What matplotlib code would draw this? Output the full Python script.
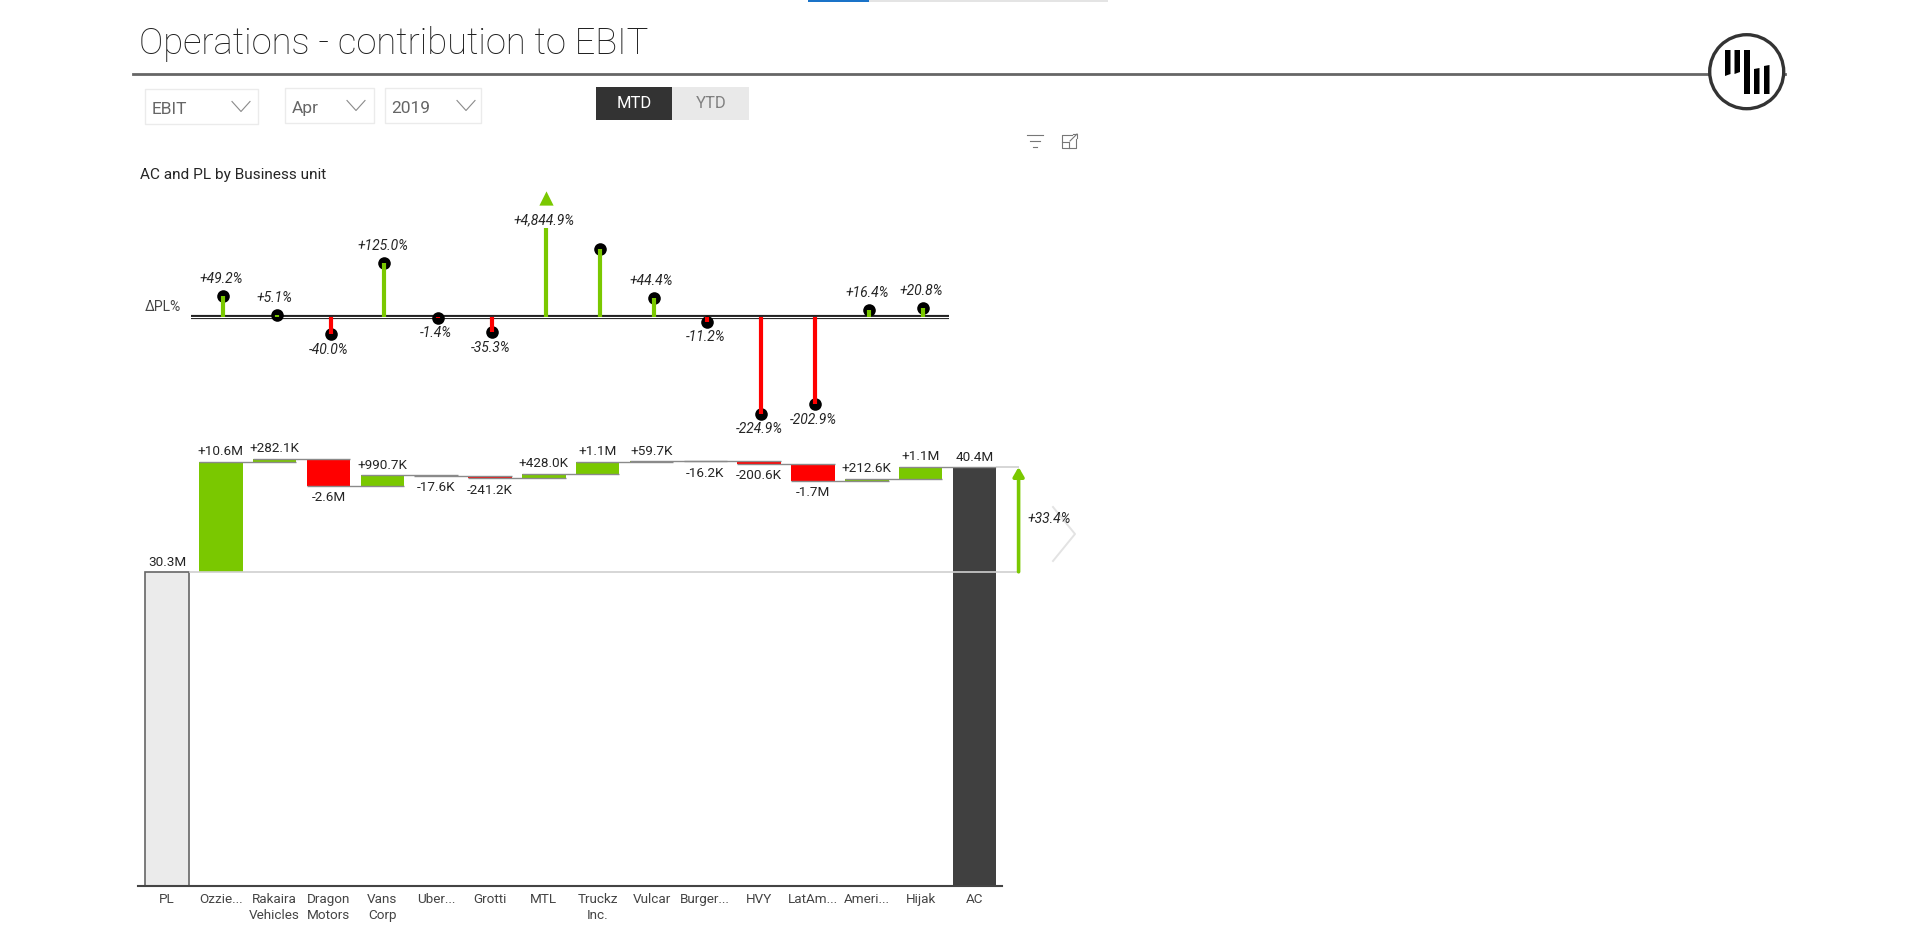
import numpy as np
import matplotlib
matplotlib.use("Agg")
import matplotlib.pyplot as plt
from matplotlib.patches import Circle, Polygon, Rectangle

plt.rcParams["font.family"] = ["Roboto", "DejaVu Sans"]

W, H = 1920, 943
GREEN = "#7ac800"
RED = "#ff0000"
INK = "#252525"

categories = ["PL", "Ozzie...", "Rakaira\nVehicles", "Dragon\nMotors", "Vans\nCorp",
              "Uber...", "Grotti", "MTL", "Truckz\nInc.", "Vulcar", "Burger...",
              "HVY", "LatAm...", "Ameri...", "Hijak", "AC"]

# waterfall, in millions
pl_value = 30.3
deltas = [10.6, 0.2821, -2.57, 0.9907, -0.0176, -0.2412, 0.428, 1.12, 0.0597,
          -0.0162, -0.2006, -1.67, 0.2126, 1.13]
delta_labels = ["+10.6M", "+282.1K", "-2.6M", "+990.7K", "-17.6K", "-241.2K", "+428.0K",
                "+1.1M", "+59.7K", "-16.2K", "-200.6K", "-1.7M", "+212.6K", "+1.1M"]
pl_label = "30.3M"
ac_label = "40.4M"
total_label = "+33.4%"

# delta PL %; Truckz has no label in the report, its value is read from the stem height
pct_values = [49.2, 5.1, -40.0, 125.0, -1.4, -35.3, 4844.9, 158.0, 44.4, -11.2,
              -224.9, -202.9, 16.4, 20.8]
pct_labels = ["+49.2%", "+5.1%", "-40.0%", "+125.0%", "-1.4%", "-35.3%", "+4,844.9%", "",
              "+44.4%", "-11.2%", "-224.9%", "-202.9%", "+16.4%", "+20.8%"]
pct_cap = 206.0   # outlier stem gets cut here and marked with a triangle


def px_axes(fig, left, top, right, bottom):
    return fig.add_axes([left / W, (H - bottom) / H, (right - left) / W, (bottom - top) / H])


fig = plt.figure(figsize=(W / 100, H / 100), dpi=100, facecolor="white")

# page furniture ---------------------------------------------------------
ui = px_axes(fig, 0, 0, W, H)
ui.set_xlim(0, W)
ui.set_ylim(H, 0)
ui.axis("off")

ui.add_patch(Rectangle((808, 0), 300, 2, color="#e4e4e4", lw=0))
ui.add_patch(Rectangle((808, 0), 61, 2, color="#1a73c8", lw=0))

ui.text(139, 44, "Operations - contribution to EBIT", fontsize=26.2, weight="light",
        color="#1f1f1f", va="center")
ui.plot([133, 1785], [74, 74], color="#666666", lw=2)

ui.add_patch(Circle((1746.7, 71.7), 37, fc="white", ec="#333333", lw=2.4, zorder=3))
logo_bars = [[(1725, 50), (1730.5, 50), (1730.5, 74), (1725, 76)],
             [(1734.5, 50), (1740, 50), (1740, 72), (1734.5, 74)],
             [(1744, 50), (1749.5, 50), (1749.5, 94), (1744, 94)],
             [(1754, 69), (1759.5, 68), (1759.5, 94), (1754, 94)],
             [(1764, 66), (1769.5, 65), (1769.5, 94), (1764, 94)]]
for pts in logo_bars:
    ui.add_patch(Polygon(pts, fc="black", lw=0, zorder=4))

slicers = [("EBIT", 144.5, 258, 89, 124, 232), ("Apr", 285, 373.5, 88, 123, 347),
           ("2019", 384.5, 481, 88, 123, 457)]
for text, x0, x1, y0, y1, cx in slicers:
    ui.add_patch(Rectangle((x0, y0), x1 - x0, y1 - y0, fc="white", ec="#ebebeb", lw=1))
    ui.text(x0 + 7, (y0 + y1) / 2 + 3, text, fontsize=12.5, color="#666666", va="center")
    ui.plot([cx, cx + 9, cx + 18], [(y0 + y1) / 2 - 5, (y0 + y1) / 2 + 5, (y0 + y1) / 2 - 5],
            color="#8a8a8a", lw=0.8)

ui.add_patch(Rectangle((596, 87), 76, 33, color="#333333", lw=0))
ui.add_patch(Rectangle((672, 87), 77, 33, color="#e9e9e9", lw=0))
ui.text(634, 103.5, "MTD", fontsize=12, color="white", ha="center", va="center")
ui.text(711, 103.5, "YTD", fontsize=12, color="#808080", ha="center", va="center")

# visual header icons
for y, half in zip([135, 141, 147], [8, 5, 2]):
    ui.plot([1034.5 - half, 1034.5 + half], [y, y], color="#777777", lw=0.8)
ui.plot([1072, 1062, 1062, 1076, 1076], [135, 135, 148, 148, 139], color="#777777", lw=0.8)
ui.plot([1062, 1069, 1069], [142, 142, 148], color="#777777", lw=0.8)
ui.plot([1073, 1077, 1077], [134, 134, 138], color="#777777", lw=0.8)
ui.plot([1070, 1077], [141, 134], color="#777777", lw=0.8)

ui.text(140, 175, "AC and PL by Business unit", fontsize=11.1, color=INK, va="center")
ui.text(163, 307, "ΔPL%", fontsize=10, color="#444444", ha="center", va="center")

# next-page chevron
ui.plot([1053, 1075, 1053], [507, 534, 561], color="#e3e3e3", lw=1.4)

# lollipops --------------------------------------------------------------
STEP = 53.83
PCT_SCALE = 0.43  # px per percent point
L_LEFT, L_RIGHT, L_TOP, L_BOTTOM = 191, 949, 190, 440
L_X0, L_ZERO = 223, 317

top = px_axes(fig, L_LEFT, L_TOP, L_RIGHT, L_BOTTOM)
top.patch.set_alpha(0)
top.axis("off")
top.set_xlim((L_LEFT - L_X0) / STEP, (L_RIGHT - L_X0) / STEP)
top.set_ylim((L_ZERO - L_BOTTOM) / PCT_SCALE, (L_ZERO - L_TOP) / PCT_SCALE)

pct = np.array(pct_values)
shown = np.minimum(pct, pct_cap)
xs = np.arange(len(pct))
capped = pct > pct_cap

top.axhline(0, color="#222222", lw=3, zorder=1)
top.axhline(0, color="white", lw=0.8, zorder=1.1)
top.scatter(xs[~capped], shown[~capped], s=82, color="black", lw=0, zorder=2, clip_on=False)
top.vlines(xs, 0, shown, colors=[GREEN if v > 0 else RED for v in pct], lw=3, zorder=3)
top.scatter(xs[capped], shown[capped] + 70, s=105, marker="^", color=GREEN, lw=0, zorder=3)

for x, y, v, label in zip(xs, shown, pct, pct_labels):
    if v > pct_cap:
        off = 8
    else:
        off = 17 if v > 0 else -15.5
    top.annotate(label, (x, y), xytext=(-2, off), textcoords="offset pixels", ha="center",
                 va="center", fontsize=10, style="italic", color=INK, zorder=5)

# waterfall --------------------------------------------------------------
M_SCALE = 10.37  # px per million
W_LEFT, W_RIGHT, W_TOP, W_BOTTOM = 138, 1090, 440, 886
W_X0 = 167

wf = px_axes(fig, W_LEFT, W_TOP, W_RIGHT, W_BOTTOM)
wf.patch.set_alpha(0)
wf.set_xlim((W_LEFT - W_X0) / STEP, (W_RIGHT - W_X0) / STEP)
wf.set_ylim(0, (W_BOTTOM - W_TOP) / M_SCALE)
for side in ["top", "left", "right"]:
    wf.spines[side].set_visible(False)
wf.spines["bottom"].set_color("#444444")
wf.spines["bottom"].set_linewidth(1.5)
wf.spines["bottom"].set_bounds((W_LEFT - W_X0) / STEP, (1002 - W_X0) / STEP)
wf.set_yticks([])

cum = pl_value + np.cumsum(deltas)
starts = np.r_[pl_value, cum[:-1]]
ac_value = cum[-1]
bar_w = 0.808
n = len(categories)
pos = np.arange(n)

wf.bar(pos[0], pl_value, width=bar_w, color="#ebebeb", edgecolor="#666666", lw=1.2, zorder=2)
wf.bar(pos[1:-1], deltas, bottom=starts, width=bar_w,
       color=[GREEN if d > 0 else RED for d in deltas], lw=0, zorder=2)
wf.bar(pos[-1], ac_value, width=bar_w, color="#404040", lw=0, zorder=2)

# connectors between neighbouring bars
levels = np.r_[pl_value, cum]
wf.hlines(levels[1:], pos[1:-1] - bar_w / 2, pos[2:] + bar_w / 2, color="#8a8a8a", lw=1.0, zorder=3)

# total variance arrow
arrow_x = 15.82
wf.hlines(pl_value, pos[0] + bar_w / 2, arrow_x, color="#d0d0d0", lw=1.2, zorder=3)
wf.hlines(ac_value, pos[-1] + bar_w / 2, arrow_x, color="#d0d0d0", lw=1.2, zorder=3)
wf.annotate("", xy=(arrow_x, ac_value), xytext=(arrow_x, pl_value),
            arrowprops=dict(arrowstyle="-|>,head_length=0.55,head_width=0.32", color=GREEN, lw=2.6,
                            shrinkA=0, shrinkB=0))
wf.annotate(total_label, (arrow_x, (pl_value + ac_value) / 2), xytext=(31, 0), textcoords="offset pixels",
            ha="center", va="center", fontsize=10, style="italic", color=INK)

for x, d, s, label in zip(pos[1:-1], deltas, starts, delta_labels):
    y = max(s, s + d) if d > 0 else min(s, s + d)
    wf.annotate(label, (x, y), xytext=(0, 10 if d > 0 else -12), textcoords="offset pixels",
                ha="center", va="center", fontsize=9.7, color=INK)
wf.annotate(pl_label, (pos[0], pl_value), xytext=(0, 9.5), textcoords="offset pixels",
            ha="center", va="center", fontsize=9.7, color=INK)
wf.annotate(ac_label, (pos[-1], ac_value), xytext=(0, 9.5), textcoords="offset pixels",
            ha="center", va="center", fontsize=9.7, color=INK)

wf.set_xticks(pos)
wf.set_xticklabels(categories, fontsize=9.7, color="#444444", linespacing=1.35)
wf.tick_params(axis="x", length=0, pad=5)

fig.savefig("out.png", dpi=100)
